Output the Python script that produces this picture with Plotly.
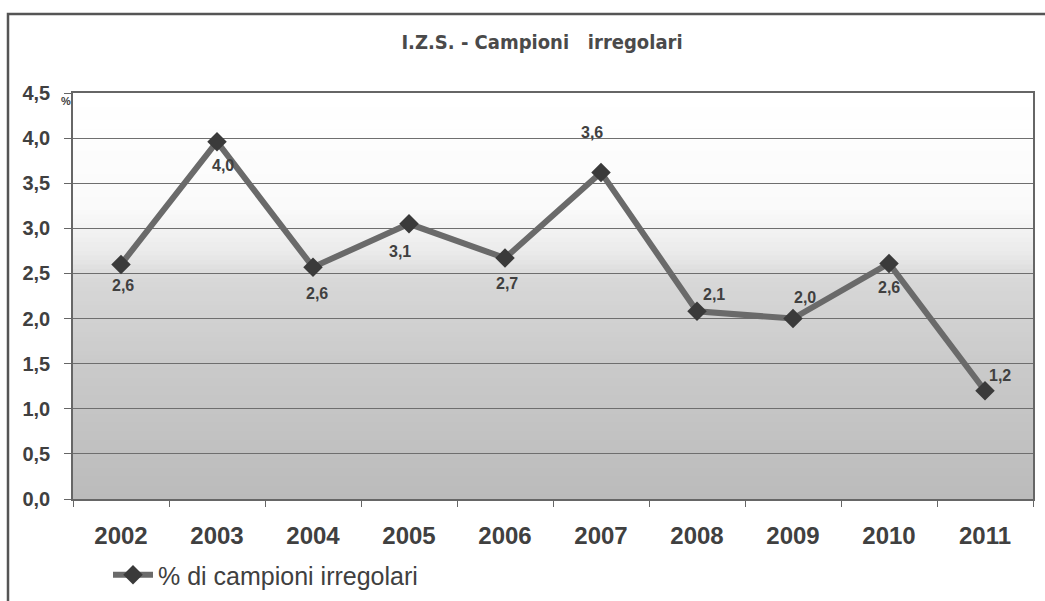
import plotly.graph_objects as go

years = ["2002", "2003", "2004", "2005", "2006", "2007", "2008", "2009", "2010", "2011"]
values = [2.6, 3.96, 2.57, 3.05, 2.67, 3.62, 2.08, 2.0, 2.61, 1.2]
labels = ["2,6", "4,0", "2,6", "3,1", "2,7", "3,6", "2,1", "2,0", "2,6", "1,2"]
# pixel offsets of the value labels relative to their points (style)
label_dx = [2, 6, 4, -9, 2, -9, 17, 12, 0, 15]
label_dy = [21, 24, 26, 28, 25, -40, -17, -21, 24, -15]
y_ticks = [0.0, 0.5, 1.0, 1.5, 2.0, 2.5, 3.0, 3.5, 4.0, 4.5]
y_ticktext = ["0,0", "0,5", "1,0", "1,5", "2,0", "2,5", "3,0", "3,5", "4,0", "4,5"]
series_name = "% di campioni irregolari"
title_text = "I.Z.S. - Campioni&nbsp;&nbsp; irregolari"

L, R, T, B = 73, 12, 93, 102
W, H = 1045, 601
pw = W - L - R
ph = H - T - B

TXT = "#404040"

fig = go.Figure()
fig.add_trace(go.Scatter(
    x=years, y=values, mode="lines+markers", name=series_name,
    line=dict(color="#6a6a6a", width=6),
    marker=dict(symbol="diamond", size=15, color="#3a3a3a"),
    showlegend=True,
))

# value labels (x given as category index)
for i, (v, lab, dx, dy) in enumerate(zip(values, labels, label_dx, label_dy)):
    fig.add_annotation(x=i, y=v, xref="x", yref="y", text=lab, showarrow=False,
                       xanchor="center", yanchor="middle",
                       xshift=dx, yshift=-dy,
                       font=dict(family="Liberation Sans, Arial", size=16, color=TXT, weight="bold"))

# gradient background strips (below gridlines)
def hex2rgb(h):
    return tuple(int(h[i:i + 2], 16) for i in (1, 3, 5))

stops = [(0.0, "#bbbbbb"), (1.5, "#cacaca"), (2.45, "#d8d8d8"), (2.7, "#e9e9e9"), (3.2, "#fafafa"), (4.5, "#ffffff")]

def col_at(y):
    for (y0, c0), (y1, c1) in zip(stops[:-1], stops[1:]):
        if y0 <= y <= y1:
            t = (y - y0) / (y1 - y0)
            a, b = hex2rgb(c0), hex2rgb(c1)
            return "rgb(%d,%d,%d)" % tuple(round(a[k] + (b[k] - a[k]) * t) for k in range(3))
    return stops[-1][1]

n = 90
for k in range(n):
    y0 = 4.5 * k / n
    y1 = 4.5 * (k + 1) / n
    fig.add_shape(type="rect", xref="paper", yref="y", x0=0, x1=1, y0=y0, y1=y1 + 0.01,
                  fillcolor=col_at((y0 + y1) / 2), line=dict(width=0), layer="below")

# outer chart frame
fig.add_shape(type="rect", xref="paper", yref="paper",
              x0=(8 - L) / pw, x1=1.2, y0=-0.5, y1=(H - B - 14) / ph,
              line=dict(color="#555555", width=2.5), fillcolor="rgba(0,0,0,0)", layer="above")

# % unit marker
fig.add_annotation(xref="paper", yref="paper", x=(66 - L) / pw, y=(H - B - 101) / ph,
                   text="%", showarrow=False, xanchor="center", yanchor="middle",
                   font=dict(family="Liberation Sans, Arial", size=11, color=TXT, weight="bold"))

fig.update_layout(
    width=W, height=H, autosize=False,
    margin=dict(l=L, r=R, t=T, b=B, autoexpand=False),
    paper_bgcolor="white",
    plot_bgcolor="rgba(0,0,0,0)",
    title=dict(text=title_text, x=(542) / W, xanchor="center", y=1 - 42 / H, yanchor="middle",
               font=dict(family="Liberation Sans Narrow, DejaVu Sans Condensed, Arial Narrow", size=20,
                         color="#4a4a4a", weight="bold")),
    showlegend=True,
    legend=dict(orientation="h", x=(108 - L) / pw, xanchor="left", y=(H - B - 575) / ph, yanchor="middle",
                font=dict(family="Liberation Sans, Arial", size=25, color=TXT),
                bgcolor="rgba(0,0,0,0)", borderwidth=0, itemwidth=40),
    xaxis=dict(type="category", tickson="boundaries", ticks="outside", ticklen=6, tickcolor="#666666",
               showline=True, linecolor="#666666", linewidth=1.5, mirror=True, showgrid=False,
               tickfont=dict(family="Liberation Sans, Arial", size=24, color=TXT, weight="bold"),
               ticklabelstandoff=14, range=[-0.5, 9.5], automargin=False),
    yaxis=dict(range=[0, 4.5], tickvals=y_ticks, ticktext=y_ticktext, ticks="outside", ticklen=7,
               tickcolor="#666666", showline=True, linecolor="#666666", linewidth=1.5, mirror=True,
               showgrid=True, gridcolor="#6e6e6e", gridwidth=1, zeroline=False,
               tickfont=dict(family="Liberation Sans, Arial", size=20, color=TXT, weight="bold"),
               ticklabelstandoff=10, automargin=False),
)

fig.write_html("out.html", config={"displayModeBar": False},
               post_script="document.body.style.margin='0px';")
